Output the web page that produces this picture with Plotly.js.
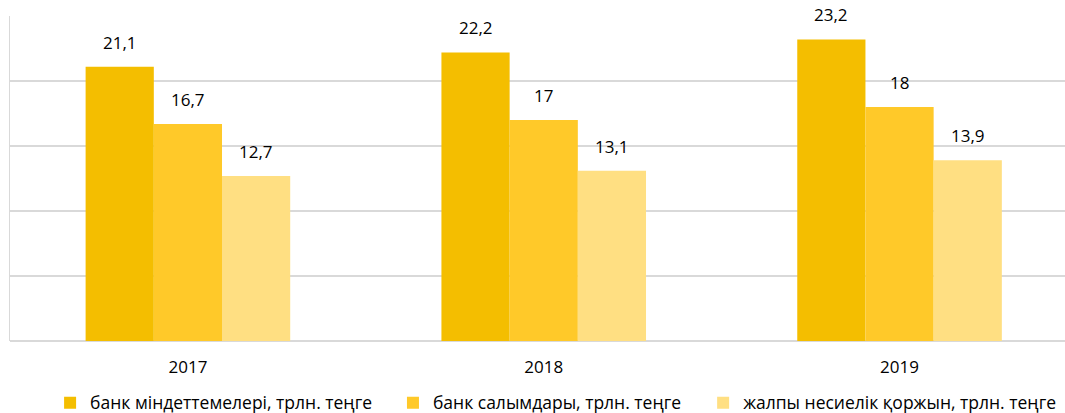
<!DOCTYPE html>
<html>
<head>
<meta charset="utf-8">
<script src="https://cdn.plot.ly/plotly-3.0.1.min.js"></script>
<style>
  html, body { margin: 0; padding: 0; background: #fff; }
  #chart { width: 1065px; height: 413px; }
</style>
</head>
<body>
<div id="chart"></div>
<script>
// Years on the category axis
const years = ['2017', '2018', '2019'];

// Series names (trillion tenge)
const seriesNames = [
  'банк міндеттемелері, трлн. теңге',
  'банк салымдары, трлн. теңге',
  'жалпы несиелік қоржын, трлн. теңге'
];

// Values per series
const liabilities = [21.1, 22.2, 23.2];
const deposits = [16.7, 17, 18];
const loanPortfolio = [12.7, 13.1, 13.9];

const seriesValues = [liabilities, deposits, loanPortfolio];
const seriesColors = ['#F4BE00', '#FFC929', '#FFDF82'];
const legendIds = ['legend', 'legend2', 'legend3'];
const legendX = [0.038, 0.363, 0.657];

const BARGAP = 0.425;
const barFrac = (1 - BARGAP) / seriesValues.length;

const fmt = v => String(v).replace('.', ',');
const FONT = 'Open Sans, Noto Sans, sans-serif';

const traces = seriesValues.map((vals, i) => ({
  type: 'bar',
  name: seriesNames[i],
  x: years,
  y: vals,
  marker: { color: seriesColors[i], line: { width: 0 } },
  legend: legendIds[i],
  hoverinfo: 'skip'
}));

// Value labels above each bar, centred on the bar within its group
const annotations = [];
seriesValues.forEach((vals, i) => {
  vals.forEach((v, k) => {
    annotations.push({
      x: k + (i - (seriesValues.length - 1) / 2) * barFrac,
      y: v,
      xref: 'x',
      yref: 'y',
      text: fmt(v),
      showarrow: false,
      yanchor: 'bottom',
      yshift: 11,
      font: { family: FONT, size: 17, color: '#000' }
    });
  });
});

const legendBase = {
  orientation: 'h',
  y: -0.19,
  yanchor: 'middle',
  xanchor: 'left',
  font: { family: FONT, size: 17.5, color: '#000' },
  bgcolor: 'rgba(0,0,0,0)',
  itemwidth: 30
};

const layout = {
  width: 1065,
  height: 413,
  margin: { l: 9.5, r: 0, t: 16, b: 72, autoexpand: false },
  paper_bgcolor: '#fff',
  plot_bgcolor: '#fff',
  barmode: 'group',
  bargap: BARGAP,
  bargroupgap: 0,
  xaxis: {
    type: 'category',
    range: [-0.5, 2.465],
    showgrid: false,
    zeroline: false,
    showline: false,
    ticks: '',
    tickfont: { family: FONT, size: 17, color: '#000' },
    ticklabelstandoff: 14
  },
  yaxis: {
    range: [0, 25],
    dtick: 5,
    showticklabels: false,
    showgrid: true,
    gridcolor: '#D9D9D9',
    gridwidth: 1.3,
    zeroline: true,
    zerolinecolor: '#D9D9D9',
    zerolinewidth: 1.3,
    showline: true,
    linecolor: '#D9D9D9',
    linewidth: 1.3,
    ticks: ''
  },
  annotations: annotations,
  legend: Object.assign({}, legendBase, { x: legendX[0] }),
  legend2: Object.assign({}, legendBase, { x: legendX[1] }),
  legend3: Object.assign({}, legendBase, { x: legendX[2] }),
  showlegend: true
};

Plotly.newPlot('chart', traces, layout, { displayModeBar: false, staticPlot: true });
</script>
</body>
</html>
